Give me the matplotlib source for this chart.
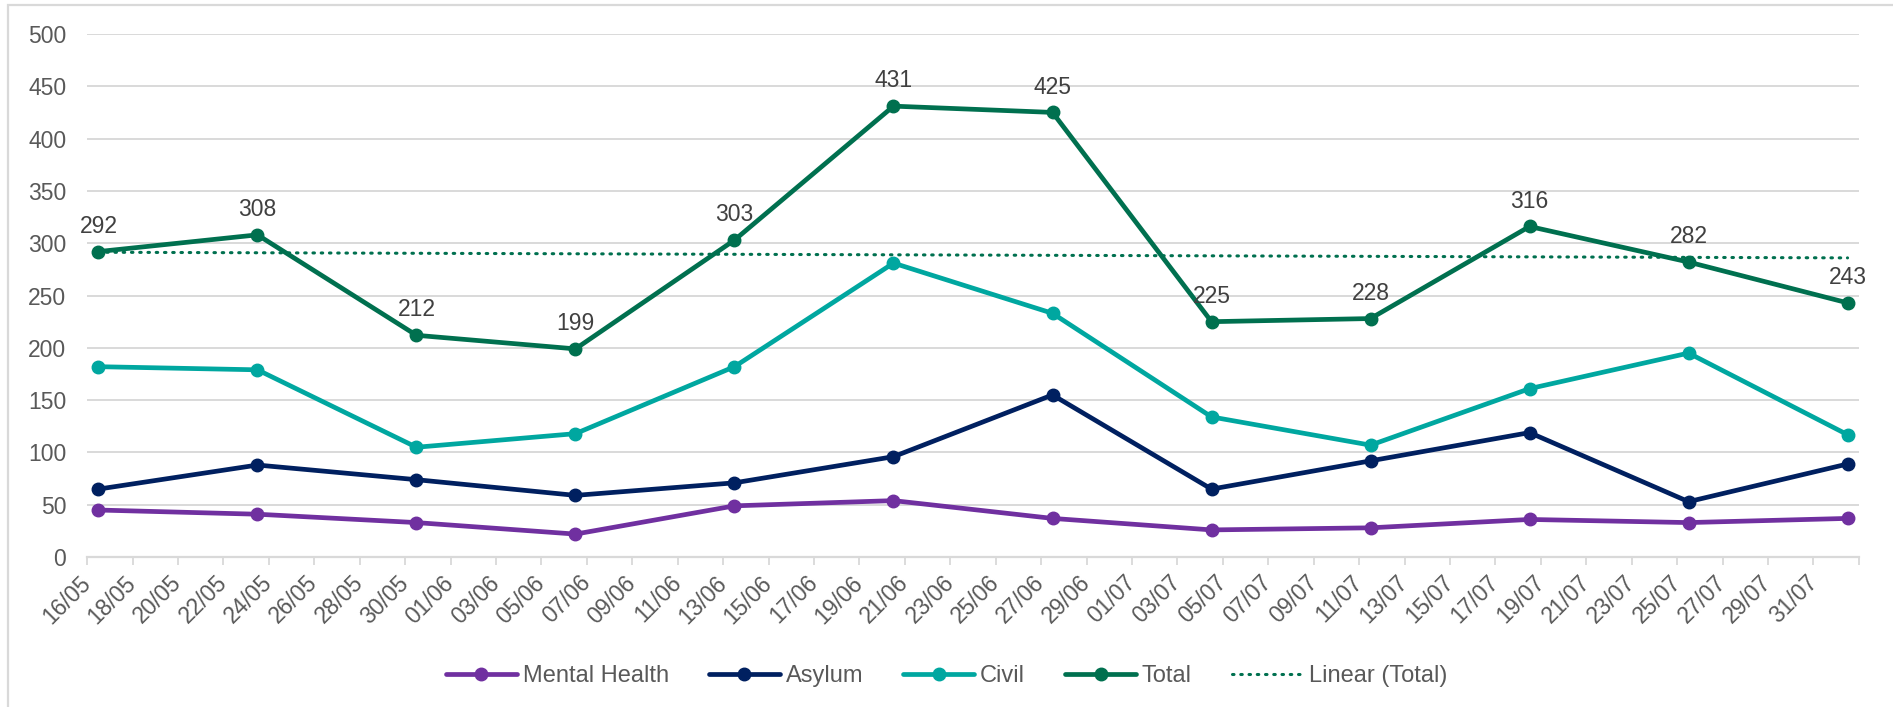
import matplotlib.pyplot as plt
import numpy as np
import pandas as pd
from matplotlib.patches import Rectangle

plt.rcParams['font.family'] = ['Liberation Sans', 'DejaVu Sans']

# weekly data points
dates = pd.date_range('2022-05-16', periods=12, freq='7D')
mental_health = [45, 41, 33, 22, 49, 54, 37, 26, 28, 36, 33, 37]
asylum = [65, 88, 74, 59, 71, 96, 155, 65, 92, 119, 53, 89]
civil = [182, 179, 105, 118, 182, 281, 233, 134, 107, 161, 195, 117]
total = [292, 308, 212, 199, 303, 431, 425, 225, 228, 316, 282, 243]

series = [
    ('Mental Health', mental_health, '#7030A0'),
    ('Asylum', asylum, '#002060'),
    ('Civil', civil, '#00A7A0'),
    ('Total', total, '#00704F'),
]

text_col = '#595959'
grid_col = '#D9D9D9'
fs = 16.5

fig = plt.figure(figsize=(18.93, 7.07), dpi=100)
ax = fig.add_axes([0.046, 0.212, 0.936, 0.740])

# Excel date axis: points sit in the middle of each day slot
x = dates + pd.Timedelta(hours=12)

for name, vals, col in series:
    ax.plot(x, vals, color=col, lw=3.4, marker='o', ms=9, label=name,
            solid_capstyle='round', zorder=3)

# linear trendline on Total
idx = np.arange(len(total))
m, b = np.polyfit(idx, total, 1)
ax.plot(x, m * idx + b, color='#00704F', lw=2.2, ls=(0, (0.5, 2.2)),
        dash_capstyle='round', label='Linear (Total)', zorder=2)

for xi, v in zip(x, total):
    ax.annotate(str(v), (xi, v), xytext=(0, 10), textcoords='offset points',
                ha='center', va='bottom', fontsize=fs, color='#404040')

ax.set_xlim(pd.Timestamp('2022-05-16'), pd.Timestamp('2022-08-02'))
ax.set_ylim(0, 500)
ax.set_yticks(np.arange(0, 501, 50))
ax.yaxis.grid(True, color=grid_col, lw=1.4)
ax.set_axisbelow(True)

ticks = pd.date_range('2022-05-16', '2022-08-02', freq='2D')
ax.set_xticks(ticks)
ax.set_xticklabels([t.strftime('%d/%m') if t <= pd.Timestamp('2022-07-31') else ''
                    for t in ticks],
                   rotation=45, ha='right', va='center', rotation_mode='anchor')
ax.tick_params(axis='x', length=6, width=1.3, color=grid_col, labelsize=fs,
               labelcolor=text_col, pad=10)
ax.tick_params(axis='y', length=0, labelsize=fs, labelcolor=text_col, pad=15)

for s in ['top', 'right', 'left']:
    ax.spines[s].set_visible(False)
ax.spines['bottom'].set_color(grid_col)
ax.spines['bottom'].set_linewidth(1.6)

leg = fig.legend(loc='center', bbox_to_anchor=(0.5, 0.044), ncol=5, frameon=False,
                 fontsize=17, handlelength=3, columnspacing=1.7, handletextpad=0.25)
for t in leg.get_texts():
    t.set_color(text_col)

# chart area border
fig.patches.append(Rectangle((8 / 1893, -0.1), 1.2, 1 - 5 / 707 + 0.1,
                             transform=fig.transFigure, fill=False,
                             ec='#D9D9D9', lw=1.6))

fig.savefig('out.png', dpi=100)
